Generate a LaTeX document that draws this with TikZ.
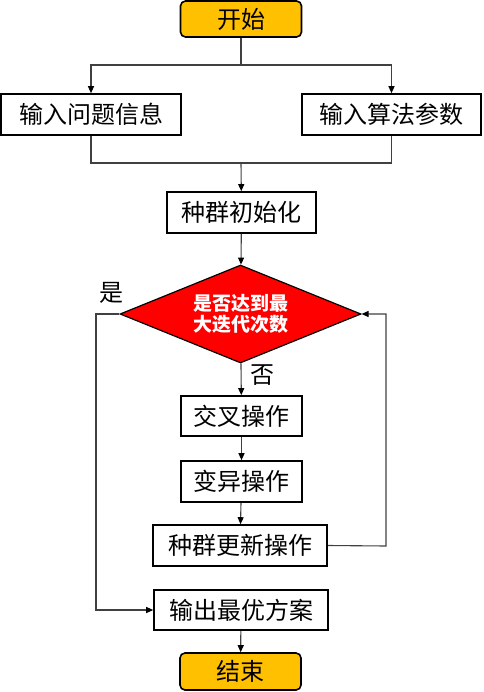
\documentclass[tikz,border=0pt]{standalone}
\usepackage{fontspec}
\newfontfamily\cjk{Noto Sans CJK SC}
\usetikzlibrary{arrows.meta, shapes.geometric}
\definecolor{termorange}{HTML}{FFC000}
\definecolor{linkgray}{HTML}{404040}

\begin{document}
\begin{tikzpicture}[x=1pt, y=-1pt,
every node/.style={font=\cjk\fontsize{24}{28}\selectfont, inner sep=0pt},
box/.style={draw, line width=1.6pt, minimum height=41pt},
terminal/.style={box, rounded corners=5pt, fill=termorange, minimum width=121pt, minimum height=36pt},
decision/.style={draw, line width=1.2pt, shape=diamond, aspect=2.46, fill=red, text=white, align=center, minimum width=241pt, minimum height=98pt, font=\cjk\bfseries\fontsize{19}{21.5}\selectfont},
link/.style={draw=linkgray, line width=1.1pt},
arrow/.style={link, -{Triangle[length=7pt, width=6pt, color=black]}}]
\useasboundingbox (0,0) rectangle (483,692);

% Define nodes
\path (241,19)
node[terminal] (start) {开始}
(91,114.5) node[box, minimum width=180pt] (info) {输入问题信息}
(391.5,114.5) node[box, minimum width=179pt] (param) {输入算法参数}
(241.5,212.5) node[box, minimum width=149pt] (init) {种群初始化}
(240.5,314) node[decision] (maxgen) {是否达到最\\大迭代次数}
(241.5,416) node[box, minimum width=121pt, minimum height=40pt] (cross) {交叉操作}
(241.5,481.5) node[box, minimum width=121pt] (mutate) {变异操作}
(240,545.5) node[box, minimum width=174pt] (update) {种群更新操作}
(241,610) node[box, minimum width=174pt, minimum height=40pt] (output) {输出最优方案}
(240.5,671.5) node[terminal, minimum height=37pt] (end) {结束}
;

\path (241,65) coordinate (split)
(241,163) coordinate (fuse)
(386,546) coordinate (back)
(96,314) coordinate (quit)
;

\draw[link] (start) -- (split);
\draw[arrow] (split) -| (info);
\draw[arrow] (split) -| (param);
\draw[link] (info.south) |- (fuse);
\draw[link] (param.south) |- (fuse);
\draw[arrow] (fuse) -- (init);
\draw[arrow] (init) -- (maxgen);
\draw[arrow] (maxgen) -- (cross);
\draw[arrow] (cross) -- (mutate);
\draw[arrow] (mutate) -- (update);
\draw[arrow] (update.east) -- (back) |- (maxgen.east);
\draw[arrow] (maxgen.west) -- (quit) |- (output.west);
\draw[arrow] (output) -- (end);

\path
(111,293) node (yes) {是}
(262,375) node (no) {否}
;

\end{tikzpicture}
\end{document}
